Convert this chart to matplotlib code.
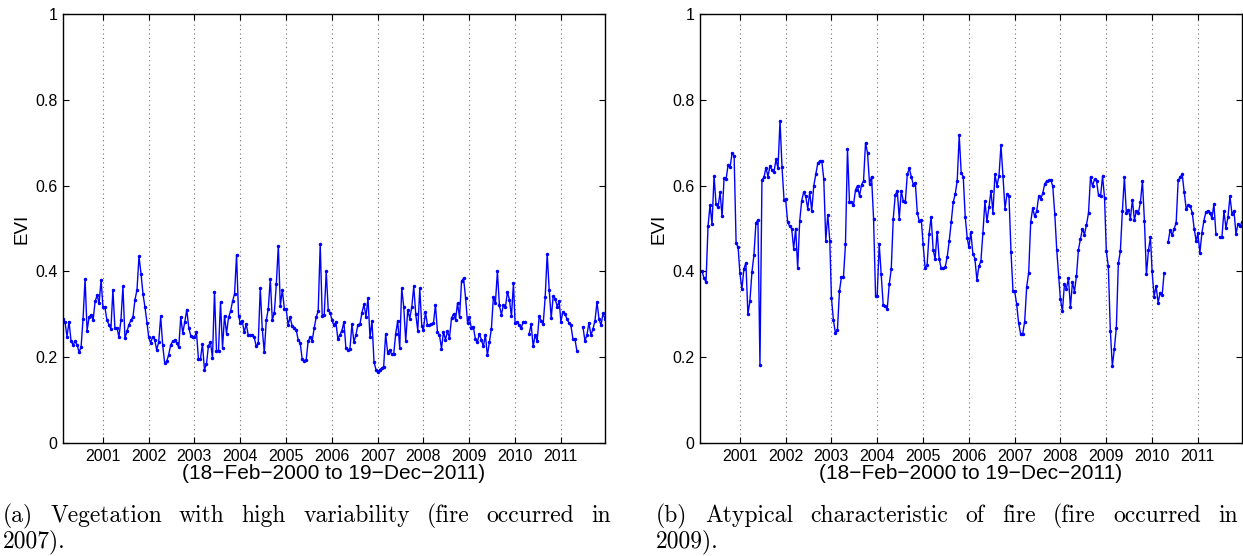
import numpy as np
import matplotlib
matplotlib.use("Agg")
import matplotlib.pyplot as plt  # noqa: E402

# EVI series, one list per year (16-day MODIS composites)
years = list(range(2000, 2012))
nan = np.nan

evi_a = {
    2000: [0.289, 0.282, 0.248, 0.283, 0.238, 0.229, 0.237, 0.229, 0.212, 0.223,
           0.290, 0.383, 0.262, 0.293, 0.299, 0.286, 0.330, 0.344, 0.326, 0.381],
    2001: [0.318, 0.317, 0.287, 0.276, 0.266, 0.357, 0.268, 0.269, 0.247, 0.287, 0.365, 0.244,
           0.260, 0.276, 0.286, 0.294, 0.334, 0.357, 0.435, 0.395, 0.347, 0.316, 0.280],
    2002: [0.247, 0.233, 0.248, 0.241, 0.217, 0.235, 0.295, 0.228, 0.186, 0.190, 0.206, 0.229,
           0.237, 0.240, 0.233, 0.223, 0.294, 0.256, 0.282, 0.311, 0.268, 0.250, 0.246],
    2003: [0.246, 0.259, 0.196, 0.196, 0.231, 0.171, 0.184, 0.227, 0.235, 0.198, 0.353, 0.215,
           0.214, 0.329, 0.221, 0.297, 0.255, 0.293, 0.307, 0.330, 0.348, 0.439, 0.297],
    2004: [0.280, 0.285, 0.258, 0.277, 0.252, 0.251, 0.252, 0.246, 0.225, 0.233, 0.361, 0.266,
           0.211, 0.286, 0.313, 0.383, 0.287, 0.303, 0.370, 0.460, 0.320, 0.357, 0.313],
    2005: [0.313, 0.276, 0.293, 0.273, 0.269, 0.264, 0.241, 0.234, 0.196, 0.192, 0.193, 0.238,
           0.246, 0.238, 0.268, 0.293, 0.308, 0.464, 0.297, 0.299, 0.400, 0.311, 0.303],
    2006: [0.287, 0.274, 0.282, 0.242, 0.252, 0.262, 0.282, 0.221, 0.216, 0.219, 0.277, 0.235,
           0.252, 0.276, 0.277, 0.304, 0.323, 0.294, 0.338, 0.246, 0.285, 0.188, 0.171],
    2007: [0.165, 0.171, 0.174, 0.178, 0.254, 0.210, 0.217, 0.207, 0.207, 0.255, 0.285, 0.221,
           0.361, 0.318, 0.237, 0.311, 0.290, 0.316, 0.365, 0.300, 0.262, 0.361, 0.272],
    2008: [0.264, 0.305, 0.276, 0.275, 0.277, 0.279, 0.322, 0.259, 0.252, 0.220, 0.259, 0.241,
           0.260, 0.245, 0.291, 0.301, 0.287, 0.326, 0.293, 0.377, 0.384, 0.339, 0.280],
    2009: [0.293, 0.268, 0.271, 0.243, 0.235, 0.254, 0.241, 0.225, 0.252, 0.204, 0.235, 0.266,
           0.340, 0.326, 0.400, 0.321, 0.299, 0.322, 0.317, 0.352, 0.334, 0.295, 0.373],
    2010: [0.280, 0.282, 0.276, 0.267, 0.282, 0.283, nan, 0.254, 0.277, 0.225, 0.252, 0.237,
           0.295, 0.285, 0.277, 0.340, 0.441, 0.357, 0.291, 0.343, 0.336, 0.318, 0.330],
    2011: [0.283, 0.305, 0.301, 0.290, 0.280, 0.274, 0.243, 0.243, 0.214, nan, nan, 0.271,
           0.238, 0.252, 0.280, 0.251, 0.266, 0.285, 0.328, 0.290, 0.274, 0.302, 0.290],
}

evi_b = {
    2000: [0.401, 0.401, 0.384, 0.375, 0.505, 0.555, 0.510, 0.622, 0.557, 0.549,
           0.585, 0.528, 0.617, 0.615, 0.648, 0.643, 0.676, 0.669, 0.466, 0.456],
    2001: [0.397, 0.358, 0.406, 0.420, 0.300, 0.331, 0.398, 0.438, 0.513, 0.520, 0.181, 0.613,
           0.619, 0.642, 0.621, 0.646, 0.636, 0.632, 0.661, 0.640, 0.751, 0.643, 0.567],
    2002: [0.568, 0.515, 0.505, 0.500, 0.453, 0.500, 0.407, 0.517, 0.565, 0.585, 0.575, 0.546,
           0.585, 0.541, 0.599, 0.626, 0.652, 0.657, 0.658, 0.615, 0.472, 0.532, 0.472],
    2003: [0.339, 0.286, 0.256, 0.264, 0.354, 0.387, 0.387, 0.463, 0.686, 0.561, 0.561, 0.555,
           0.590, 0.600, 0.575, 0.602, 0.611, 0.700, 0.676, 0.604, 0.621, 0.523, 0.343],
    2004: [0.343, 0.464, 0.393, 0.321, 0.319, 0.312, 0.370, 0.405, 0.523, 0.578, 0.588, 0.523,
           0.588, 0.564, 0.561, 0.626, 0.640, 0.621, 0.602, 0.607, 0.536, 0.517, 0.520],
    2005: [0.463, 0.408, 0.415, 0.488, 0.527, 0.451, 0.429, 0.493, 0.430, 0.407, 0.408, 0.410,
           0.433, 0.470, 0.514, 0.561, 0.580, 0.611, 0.717, 0.629, 0.621, 0.527, 0.478],
    2006: [0.456, 0.491, 0.441, 0.430, 0.380, 0.412, 0.424, 0.490, 0.563, 0.517, 0.549, 0.588,
           0.537, 0.626, 0.600, 0.622, 0.694, 0.622, 0.546, 0.580, 0.575, 0.445, 0.354],
    2007: [0.354, 0.324, 0.279, 0.254, 0.254, 0.283, 0.364, 0.397, 0.515, 0.547, 0.528, 0.541,
           0.575, 0.569, 0.582, 0.604, 0.611, 0.612, 0.614, 0.598, 0.534, 0.449, 0.387],
    2008: [0.335, 0.307, 0.370, 0.360, 0.384, 0.316, 0.376, 0.353, 0.389, 0.451, 0.476, 0.499,
           0.486, 0.509, 0.536, 0.621, 0.598, 0.615, 0.611, 0.577, 0.575, 0.622, 0.571],
    2009: [0.447, 0.412, 0.262, 0.179, 0.219, 0.269, 0.419, 0.447, 0.540, 0.619, 0.536, 0.544,
           0.523, 0.567, 0.520, 0.541, 0.537, 0.561, 0.611, 0.517, 0.393, 0.449, 0.480],
    2010: [0.401, 0.341, 0.366, 0.327, 0.350, 0.344, 0.397, nan, 0.468, 0.497, 0.484, 0.500,
           0.513, 0.612, 0.619, 0.627, 0.585, 0.546, 0.554, 0.552, 0.537, 0.499, 0.470],
    2011: [0.489, 0.443, 0.489, 0.518, 0.538, 0.541, 0.536, 0.524, 0.557, 0.488, nan, 0.480,
           0.480, 0.541, 0.501, 0.526, 0.575, 0.534, 0.541, 0.487, 0.511, 0.505, 0.515],
}

x_label = "(18\u2212Feb\u22122000 to 19\u2212Dec\u22122011)"
y_label = "EVI"
y_ticks = [0, 0.2, 0.4, 0.6, 0.8, 1]
y_ticklabels = ["0", "0.2", "0.4", "0.6", "0.8", "1"]
captions = [
    ("(a) Vegetation with high variability (fire occurred in", "2007)."),
    ("(b) Atypical characteristic of fire (fire occurred in", "2009)."),
]

W, H = 1243, 556


def modis_dates(year):
    first = 49 if year == 2000 else 1
    return [np.datetime64(f"{year}-01-01") + np.timedelta64(d - 1, "D")
            for d in range(first, 366, 16)]


dates = np.array([d for y in years for d in modis_dates(y)])


def series(table):
    return np.array([v for y in years for v in table[y]], dtype=float)


def style_axes(ax):
    ax.set_xlim(np.datetime64("2000-02-18"), np.datetime64("2011-12-19"))
    ax.set_ylim(0, 1)
    ax.set_xticks([np.datetime64(f"{y}-01-01") for y in years[1:]])
    ax.set_xticklabels([str(y) for y in years[1:]])
    ax.set_yticks(y_ticks)
    ax.set_yticklabels(y_ticklabels)
    ax.tick_params(direction="in", top=True, right=True, length=4, width=0.8,
                   labelsize=11.5, pad=4)
    ax.grid(axis="x", color="0.45", linestyle=(0, (1, 3)), linewidth=0.8)
    for s in ax.spines.values():
        s.set_linewidth(1.0)
    ax.set_xlabel(x_label, fontsize=15, labelpad=0)
    ax.set_ylabel(y_label, fontsize=13.5, labelpad=3)


def justified(fig, line, x0, x1, y, size):
    words = line.split()
    r = fig.canvas.get_renderer()
    texts = [fig.text(0, y / H, w, fontsize=size, family="cmr10", va="center")
             for w in words]
    widths = [t.get_window_extent(r).width for t in texts]
    gap = (x1 - x0 - sum(widths)) / (len(words) - 1)
    x = x0
    for t, w in zip(texts, widths):
        t.set_x(x / W)
        x += w + gap


plt.rcParams["font.family"] = ["Liberation Sans", "DejaVu Sans"]
fig = plt.figure(figsize=(W / 100, H / 100), dpi=100)

panels = [(63, evi_a), (700, evi_b)]
for (left, table) in panels:
    ax = fig.add_axes([left / W, (H - 443) / H, 542 / W, 429 / H])
    ax.plot(dates, series(table), color="#0000ff", lw=1.0, marker=".", ms=3)
    style_axes(ax)

cap_x = [(3, 611), (656, 1238)]
for (l1, l2), (x0, x1) in zip(captions, cap_x):
    justified(fig, l1, x0, x1, H - 516, 17)
    fig.text(x0 / W, (H - 542) / H, l2, fontsize=17, family="cmr10", va="center")

fig.savefig("out.png", dpi=100)
